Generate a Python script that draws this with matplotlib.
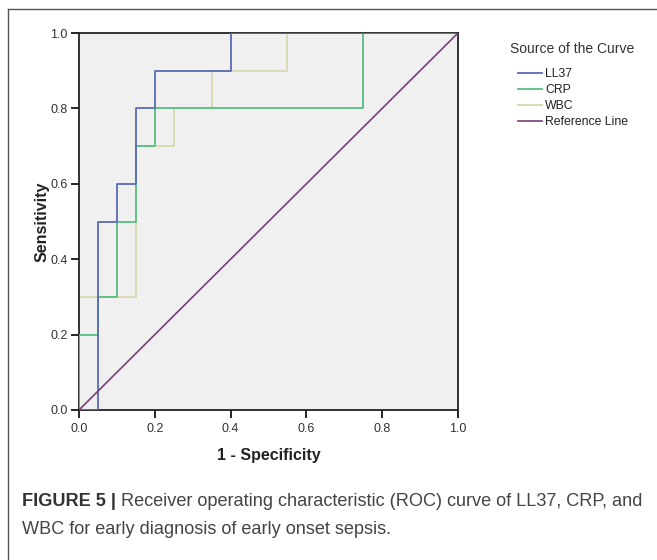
import matplotlib
matplotlib.use('Agg')
import matplotlib.pyplot as plt
from matplotlib.lines import Line2D

###       DATA        ###
# ROC vertices (1 - specificity, sensitivity)
ll37_fpr = [0.0, 0.05, 0.05, 0.10, 0.10, 0.15, 0.15, 0.20, 0.20, 0.40, 0.40, 1.0]
ll37_tpr = [0.0, 0.0, 0.5, 0.5, 0.6, 0.6, 0.8, 0.8, 0.9, 0.9, 1.0, 1.0]

crp_fpr = [0.0, 0.0, 0.05, 0.05, 0.10, 0.10, 0.15, 0.15, 0.20, 0.20, 0.75, 0.75, 1.0]
crp_tpr = [0.0, 0.2, 0.2, 0.3, 0.3, 0.5, 0.5, 0.7, 0.7, 0.8, 0.8, 1.0, 1.0]

wbc_fpr = [0.0, 0.0, 0.15, 0.15, 0.25, 0.25, 0.35, 0.35, 0.55, 0.55, 1.0]
wbc_tpr = [0.0, 0.3, 0.3, 0.7, 0.7, 0.8, 0.8, 0.9, 0.9, 1.0, 1.0]

ref_x = [0.0, 1.0]
ref_y = [0.0, 1.0]

names = ['LL37', 'CRP', 'WBC', 'Reference Line']
ticks = [0.0, 0.2, 0.4, 0.6, 0.8, 1.0]
tick_labels = ['0.0', '0.2', '0.4', '0.6', '0.8', '1.0']

colors = ['#5a6ab4', '#55bf80', '#d9d6b0', '#7a3f78']
legend_title = 'Source of the Curve'
caption_bold = 'FIGURE 5 |'
caption_rest = ' Receiver operating characteristic (ROC) curve of LL37, CRP, and'
caption_line2 = 'WBC for early diagnosis of early onset sepsis.'
###                   ###

plt.rcParams['font.family'] = ['Liberation Sans', 'DejaVu Sans']

W, H = 657, 560
mydpi = 100
fig = plt.figure(figsize=(W/mydpi, H/mydpi), dpi=mydpi)

# outer frame (only top and left visible, rest cropped)
fig.add_artist(Line2D([8/W, 8/W], [0, 1 - 9/H], color='#555555', lw=1.0))
fig.add_artist(Line2D([8/W, 1], [1 - 9/H, 1 - 9/H], color='#555555', lw=1.0))

ax = fig.add_axes([79/W, 1 - 410/H, 379/W, 377/H])
ax.set_facecolor('#f0f0f0')

ax.plot(ll37_fpr, ll37_tpr, color=colors[0], lw=1.3, label=names[0], zorder=4)
ax.plot(crp_fpr, crp_tpr, color=colors[1], lw=1.3, label=names[1], zorder=3)
ax.plot(wbc_fpr, wbc_tpr, color=colors[2], lw=1.3, label=names[2], zorder=2)
ax.plot(ref_x, ref_y, color=colors[3], lw=1.2, label=names[3], zorder=5)

ax.set_xlim(0, 1)
ax.set_ylim(0, 1)
ax.set_xticks(ticks)
ax.set_xticklabels(tick_labels)
ax.set_yticks(ticks)
ax.set_yticklabels(tick_labels)
ax.tick_params(direction='out', length=6, width=1.2, labelsize=9,
               labelcolor='#333333')
ax.tick_params(axis='x', pad=3.5)
ax.tick_params(axis='y', pad=2)
for side in ax.spines.values():
    side.set_linewidth(1.3)
    side.set_color('#222222')

ax.set_xlabel('1 - Specificity', fontsize=11.5, fontweight='bold',
              color='#222222', labelpad=9)
ax.set_ylabel('Sensitivity', fontsize=11.5, fontweight='bold',
              color='#222222', labelpad=1)

# legend title as plain text, entries below it
fig.text(510/W, 1 - 49/H, legend_title, fontsize=10, color='#333333',
         va='center', ha='left')
leg = ax.legend(loc='upper left', bbox_to_anchor=((518 - 79)/379, (410 - 68)/377),
                frameon=False, fontsize=8.8, handlelength=2.0, handletextpad=0.2,
                labelspacing=0.33, borderaxespad=0, borderpad=0)
for t in leg.get_texts():
    t.set_color('#222222')

# caption
cap_size = 13.1
t1 = fig.text(22/W, 1 - 502/H, caption_bold, fontsize=cap_size, fontweight='bold',
              color='#333333', va='center', ha='left')
fig.canvas.draw()
bb = t1.get_window_extent()
fig.text(bb.x1/W, 1 - 502/H, caption_rest, fontsize=cap_size,
         color='#444444', va='center', ha='left')
fig.text(22/W, 1 - 530/H, caption_line2, fontsize=cap_size,
         color='#444444', va='center', ha='left')

plt.savefig('out.png', dpi=mydpi, facecolor='white')
